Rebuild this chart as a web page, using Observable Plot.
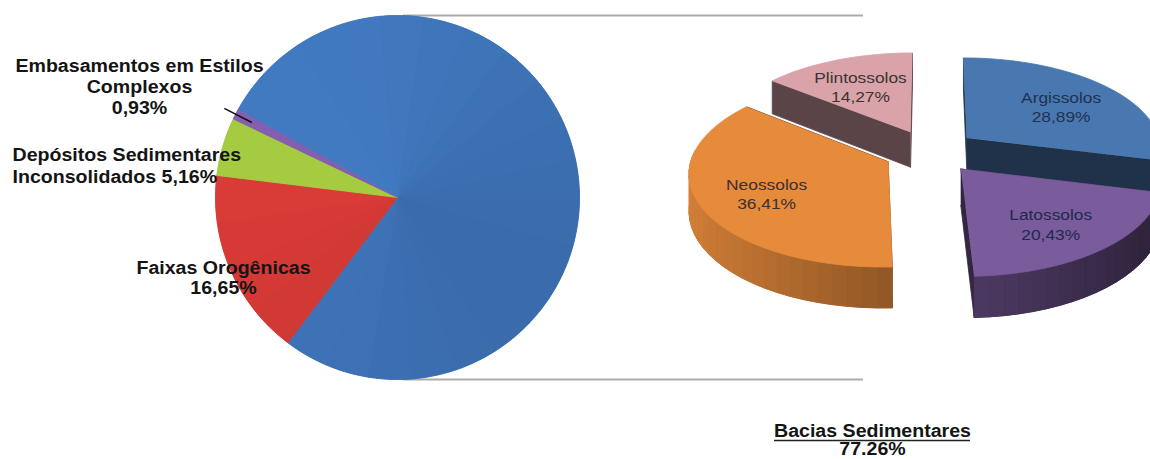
<!DOCTYPE html>
<html><head><meta charset="utf-8">
<script src="https://cdn.jsdelivr.net/npm/d3@7"></script>
<script src="https://cdn.jsdelivr.net/npm/@observablehq/plot@0.6"></script>
<style>html,body{margin:0;padding:0;background:#fff;} #chart svg{display:block;}</style>
</head><body><div id="chart"></div>
<script>
// ---- data ----
const geoLabels = ["Bacias Sedimentares", "Faixas Orogênicas", "Depósitos Sedimentares Inconsolidados", "Embasamentos em Estilos Complexos"];
const geoValues = [77.26, 16.65, 5.16, 0.93];
const geoColors = ["#3e73b7", "#cf3834", "#9cc13d", "#7d5aa6"];

const soilLabels = ["Argissolos", "Latossolos", "Neossolos", "Plintossolos"];
const soilValues = [28.89, 20.43, 36.41, 14.27];
const soilColors = ["#4978b1", "#7a5b9c", "#e68a3c", "#d9a3a9"];
const soilTextColors = ["#1f3152", "#1f2a4d", "#3a3030", "#3a3434"];

// ---- layout ----
const W = 1150, H = 459;
const fmt = v => v.toFixed(2).replace(".", ",") + "%";
const rad = d => d * Math.PI / 180;
const L = {cx: 397, cy: 197, r: 182, start: 208.9, band: 14};
const R3 = {cx: 930, cy: 151, r: 195, k: 0.47, D: 1800, explode: 47, depth: 36, labelAt: 0.66};
const proj = (u, v, down) => { const s = R3.D / (R3.D + v); return [R3.cx + u * s, R3.cy - R3.k * v * s + down * s]; };
const shade = (c, f) => { const q = d3.rgb(c); return d3.rgb(Math.min(255, q.r * f), Math.min(255, q.g * f), Math.min(255, q.b * f)).formatHex(); };
const dark = (c, b) => d3.interpolateRgb("#000", c)(b);

const base = [], polys = [];
let pid = 0;
function addPoly(list, pts, color) { const k = pid++; for (const [x, y] of pts) list.push({id: k, x, y, color}); }
const arcPts = (a0, a1) => {
  const m = Math.max(2, Math.ceil((a1 - a0) / 2)), out = [];
  for (let s = 0; s <= m; s++) { const t = rad(a0 + (a1 - a0) * s / m); out.push([L.cx + L.r * Math.cos(t), L.cy + L.r * Math.sin(t)]); }
  return out;
};

// left pie: flat base slices, then broad shading facets on top
const geoTotal = d3.sum(geoValues);
const geoSlices = [];
{
  let a = L.start;
  geoValues.forEach((v, i) => {
    const span = v / geoTotal * 360;
    geoSlices.push({i, a0: a, a1: a + span, mid: a + span / 2});
    addPoly(base, [[L.cx, L.cy], ...arcPts(a, a + span)], geoColors[i]);
    const n = Math.max(1, Math.round(span / L.band));
    for (let j = 0; j < n; j++) {
      const a0 = a + span * j / n, a1 = a + span * (j + 1) / n;
      const f = 1 + 0.06 * Math.cos(rad((a0 + a1) / 2 - 215));
      addPoly(polys, [[L.cx, L.cy], ...arcPts(a0, a1)], shade(geoColors[i], f));
    }
    a += span;
  });
}

// right 3D exploded pie
const soilTotal = d3.sum(soilValues);
const soilSlices = [];
{
  let th = 0;
  soilValues.forEach((v, i) => {
    const t1 = th, t2 = th + v / soilTotal * 360; th = t2;
    const m = (t1 + t2) / 2;
    soilSlices.push({i, t1, t2, m, au: R3.explode * Math.sin(rad(m)), av: R3.explode * Math.cos(rad(m))});
  });
}
for (const sl of soilSlices.slice().sort((a, b) => b.av - a.av)) {
  const col = soilColors[sl.i];
  const E = t => [sl.au + R3.r * Math.sin(rad(t)), sl.av + R3.r * Math.cos(rad(t))];
  for (const tt of [sl.t1, sl.t2]) {
    const [eu, ev] = E(tt);
    addPoly(polys, [proj(sl.au, sl.av, 0), proj(eu, ev, 0), proj(eu, ev, R3.depth), proj(sl.au, sl.av, R3.depth)], dark(col, 0.42));
  }
  const n = Math.ceil((sl.t2 - sl.t1) / 4);
  const strips = [];
  for (let j = 0; j < n; j++) {
    const a0 = sl.t1 + (sl.t2 - sl.t1) * j / n, a1 = sl.t1 + (sl.t2 - sl.t1) * (j + 1) / n;
    const am = (a0 + a1) / 2;
    if (Math.cos(rad(am)) > 0.15) continue;
    const b = Math.max(0.33, Math.min(0.93, 0.64 - 0.28 * Math.sin(rad(am))));
    strips.push({a0, a1, b});
  }
  if (strips.length) {
    // solid backing wall under the shaded strips (hides seams)
    const top = [], bot = [];
    for (const s of strips) { for (const t of [s.a0, s.a1]) { const [u, v] = E(t); top.push(proj(u, v, 0)); bot.push(proj(u, v, R3.depth)); } }
    addPoly(polys, [...top, ...bot.reverse()], dark(col, d3.mean(strips, s => s.b)));
    for (const s of strips) {
      const [u0, v0] = E(s.a0), [u1, v1] = E(s.a1);
      addPoly(polys, [proj(u0, v0, 0), proj(u1, v1, 0), proj(u1, v1, R3.depth), proj(u0, v0, R3.depth)], dark(col, s.b));
    }
  }
  const pts = [proj(sl.au, sl.av, 0)];
  const m = Math.ceil((sl.t2 - sl.t1) / 2);
  for (let j = 0; j <= m; j++) { const [u, v] = E(sl.t1 + (sl.t2 - sl.t1) * j / m); pts.push(proj(u, v, 0)); }
  addPoly(polys, pts, col);
}

const soilText = soilSlices.map(sl => {
  const u = sl.au + R3.labelAt * R3.r * Math.sin(rad(sl.m));
  const v = sl.av + R3.labelAt * R3.r * Math.cos(rad(sl.m));
  const [x, y] = proj(u, v, 0);
  return {x, y: y + 3, text: soilLabels[sl.i] + "\n" + fmt(soilValues[sl.i]), color: soilTextColors[sl.i]};
});

// leader line for the smallest slice
const emb = geoSlices[3];
const leader = [{
  x1: L.cx + 1.07 * L.r * Math.cos(rad(emb.mid)), y1: L.cy + 1.07 * L.r * Math.sin(rad(emb.mid)),
  x2: L.cx + 0.9 * L.r * Math.cos(rad(emb.mid)), y2: L.cy + 0.9 * L.r * Math.sin(rad(emb.mid))
}];

// annotation positions (layout)
const geoText = [
  {x: 139, y: 86, text: "Embasamentos em Estilos\nComplexos\n" + fmt(geoValues[3]), anchor: "middle", lh: 1.18},
  {x: 12, y: 164, text: "Depósitos Sedimentares\nInconsolidados " + fmt(geoValues[2]), anchor: "start", lh: 1.26},
  {x: 223, y: 277, text: geoLabels[1] + "\n" + fmt(geoValues[1]), anchor: "middle", lh: 1.16}
];
const titlePos = {x: 872, y: 431, y2: 449, ulY: 440, ulHalf: 98};

const font = "'Liberation Sans', Arial, sans-serif";
const polyOpts = {x: "x", y: "y", z: "id", fill: "color", stroke: "color", strokeLinejoin: "round", curve: "linear"};
const plot = Plot.plot({
  width: W, height: H, margin: 0,
  x: {domain: [0, W], range: [0, W], axis: null},
  y: {domain: [0, H], range: [0, H], axis: null},
  color: {type: "identity"},
  style: {background: "#fff", fontFamily: font},
  marks: [
    Plot.ruleY([L.cy - L.r, L.cy + L.r], {x1: L.cx + 6, x2: 863, stroke: "#ababab", strokeWidth: 2}),
    Plot.line(base, {...polyOpts, strokeWidth: 0.3}),
    Plot.line(polys, {...polyOpts, strokeWidth: 0.8}),
    Plot.link(leader, {x1: "x1", y1: "y1", x2: "x2", y2: "y2", stroke: "#111", strokeWidth: 1.6}),
    ...geoText.map(d => Plot.text([d], {x: "x", y: "y", text: "text", textAnchor: d.anchor, lineHeight: d.lh, fontSize: 17.5, fontWeight: "bold", fill: "#141414"})),
    Plot.text(soilText, {x: "x", y: "y", text: "text", fill: "color", fontSize: 15.5, lineHeight: 1.25}),
    Plot.text([{x: titlePos.x, y: titlePos.y, t: geoLabels[0]}, {x: titlePos.x, y: titlePos.y2, t: geoValues[0].toFixed(2) + "%"}], {x: "x", y: "y", text: "t", fontSize: 17.5, fontWeight: "bold", fill: "#141414"}),
    Plot.ruleY([titlePos.ulY], {x1: titlePos.x - titlePos.ulHalf, x2: titlePos.x + titlePos.ulHalf, stroke: "#222", strokeWidth: 1.5})
  ]
});
plot.querySelectorAll('g[aria-label="text"] text').forEach(t => {
  const tr = t.getAttribute("transform");
  if (tr && tr.startsWith("translate")) t.setAttribute("transform", tr + " scale(1.12,1)");
});
document.getElementById("chart").appendChild(plot);
</script>
</body></html>
